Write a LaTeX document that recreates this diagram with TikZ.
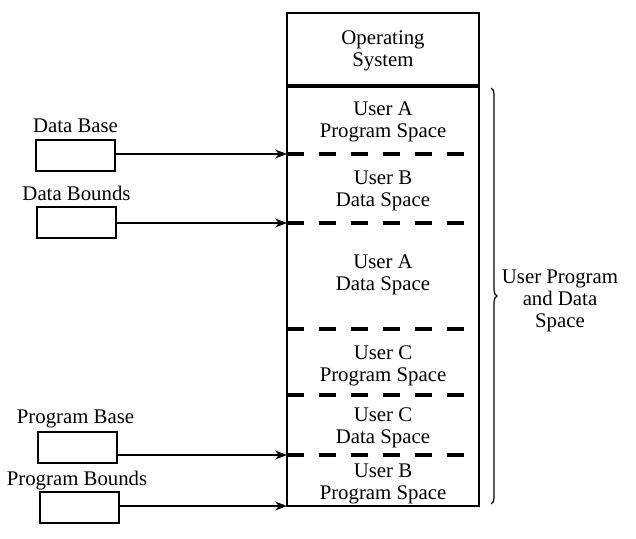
\documentclass[tikz,border=0pt]{standalone}
\usepackage{fontspec}
\setmainfont{Liberation Serif}
\usetikzlibrary{arrows.meta,decorations.pathreplacing}
\tikzset{
  regbox/.style={draw=black, line width=1pt, minimum width=39.5pt, minimum height=15.5pt, inner sep=0pt},
  regname/.style={font=\fontsize{10.4}{11}\selectfont, inner sep=0pt},
  part/.style={align=center, font=\fontsize{10.4}{11}\selectfont, inner sep=0pt},
  splitline/.style={black, line width=2pt, dash pattern=on 8.5pt off 7.5pt},
  ptr/.style={-{Stealth[length=6pt,width=4.5pt]}, black, line width=0.6pt}
}
\begin{document}
\begin{tikzpicture}[x=0.5pt,y=-0.5pt]
\useasboundingbox (0,0) rectangle (636,539);

\draw[black, line width=1pt] (287,13) rectangle (479,506);
\draw[black, line width=1.7pt] (287,86) -- (479,86);
\foreach \y in {154,223,329,395,455}
  \draw[splitline] (287,\y) -- (465,\y);

\node[part] (os) at (383,51) {Operating\\System};
\node[part] (aprog) at (383,121.5) {User A\\Program Space};
\node[part] (bdata) at (383,191) {User B\\Data Space};
\node[part] (adata) at (383,274.5) {User A\\Data Space};
\node[part] (cprog) at (383,366) {User C\\Program Space};
\node[part] (cdata) at (383,427.5) {User C\\Data Space};
\node[part] (bprog) at (383,484) {User B\\Program Space};

\coordinate (dbasein) at (287,154);
\coordinate (dbndin) at (287,223);
\coordinate (pbasein) at (287,455);
\coordinate (pbndin) at (287,506);

\node[regname] (dbaselbl) at (75.5,126) {Data Base};
\node[regbox] (dbase) at (75.5,156) {};
\node[regname] (dbndlbl) at (76.5,193) {Data Bounds};
\node[regbox] (dbnd) at (76,222.5) {};
\node[regname] (pbaselbl) at (75.5,419) {Program Base};
\node[regbox] (pbase) at (77.5,447) {};
\node[regname] (pbndlbl) at (77,481) {Program Bounds};
\node[regbox] (pbnd) at (79,507.5) {};

\draw[ptr] (dbase.east |- dbasein) -- (dbasein);
\draw[ptr] (dbnd.east |- dbndin) -- (dbndin);
\draw[ptr] (pbase.east |- pbasein) -- (pbasein);
\draw[ptr] (pbnd.east |- pbndin) -- (pbndin);

\coordinate (bracetop) at (491,88);
\coordinate (bracebot) at (491,504);
\draw[black, line width=0.6pt, decorate, decoration={brace, amplitude=3pt}] (bracetop) -- (bracebot);
\node[part] (uspace) at (560,300.5) {User Program\\and Data\\Space};
\end{tikzpicture}
\end{document}
